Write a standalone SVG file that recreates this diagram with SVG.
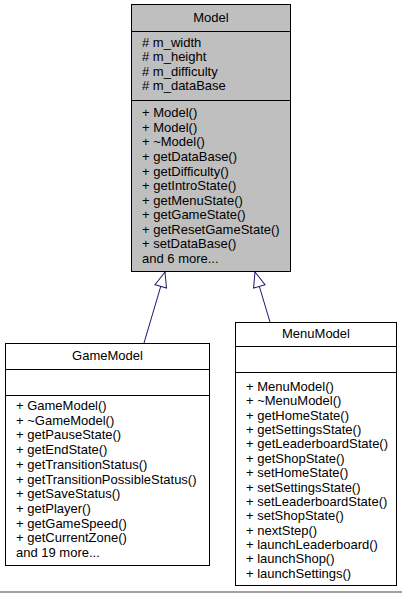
<svg xmlns="http://www.w3.org/2000/svg" width="402" height="595" viewBox="0 0 402 595">
<style>
.box{stroke:#000;stroke-width:1}
.model{fill:#bfbfbf}
.plain{fill:#fff}
.sep{stroke:#000;stroke-width:1}
text{font-family:"Liberation Sans",Arial,sans-serif;font-size:13px;fill:#000}
.title{text-anchor:middle}
.edge{stroke:#191970;stroke-width:1;fill:none;marker-end:url(#inh)}
</style>
<defs>
<marker id="inh" markerUnits="userSpaceOnUse" markerWidth="20" markerHeight="16" viewBox="-16 -8 17 16" refX="0" refY="0" orient="auto">
<path d="M0,0 L-15,-6 L-15,6 Z" fill="#fff" stroke="#191970" stroke-width="1"/>
</marker>
</defs>
<rect x="0" y="591" width="402" height="2" fill="#a0a0a0"/>
<g id="connectors">
<path class="edge" d="M144,343 L165,272"/>
<path class="edge" d="M270,322 L255,272"/>
</g>
<g id="Model">
<rect class="box model" x="131.5" y="4.5" width="159" height="267"/>
<line class="sep" x1="131.5" y1="31.5" x2="290.5" y2="31.5"/>
<line class="sep" x1="131.5" y1="100.5" x2="290.5" y2="100.5"/>
<text class="title" x="211" y="22">Model</text>
<text x="142" y="46.5"># m_width</text>
<text x="142" y="61.1"># m_height</text>
<text x="142" y="75.7"># m_difficulty</text>
<text x="142" y="90.3"># m_dataBase</text>
<text x="142" y="117.3">+ Model()</text>
<text x="142" y="131.8">+ Model()</text>
<text x="142" y="146.4">+ ~Model()</text>
<text x="142" y="160.9">+ getDataBase()</text>
<text x="142" y="175.5">+ getDifficulty()</text>
<text x="142" y="190">+ getIntroState()</text>
<text x="142" y="204.5">+ getMenuState()</text>
<text x="142" y="219.1">+ getGameState()</text>
<text x="142" y="233.6">+ getResetGameState()</text>
<text x="142" y="248.2">+ setDataBase()</text>
<text x="142" y="262.7">and 6 more...</text>
</g>
<g id="GameModel">
<rect class="box plain" x="5.5" y="343.5" width="204" height="222"/>
<line class="sep" x1="5.5" y1="369.5" x2="209.5" y2="369.5"/>
<line class="sep" x1="5.5" y1="395.5" x2="209.5" y2="395.5"/>
<text class="title" x="107.5" y="360">GameModel</text>
<text x="16" y="410">+ GameModel()</text>
<text x="16" y="424.7">+ ~GameModel()</text>
<text x="16" y="439.4">+ getPauseState()</text>
<text x="16" y="454.1">+ getEndState()</text>
<text x="16" y="468.8">+ getTransitionStatus()</text>
<text x="16" y="483.5">+ getTransitionPossibleStatus()</text>
<text x="16" y="498.2">+ getSaveStatus()</text>
<text x="16" y="512.9">+ getPlayer()</text>
<text x="16" y="527.6">+ getGameSpeed()</text>
<text x="16" y="542.3">+ getCurrentZone()</text>
<text x="16" y="557">and 19 more...</text>
</g>
<g id="MenuModel">
<rect class="box plain" x="235.5" y="322.5" width="161" height="263"/>
<line class="sep" x1="235.5" y1="346.5" x2="396.5" y2="346.5"/>
<line class="sep" x1="235.5" y1="372.5" x2="396.5" y2="372.5"/>
<text class="title" x="316" y="338">MenuModel</text>
<text x="246" y="391">+ MenuModel()</text>
<text x="246" y="405.4">+ ~MenuModel()</text>
<text x="246" y="419.7">+ getHomeState()</text>
<text x="246" y="434.1">+ getSettingsState()</text>
<text x="246" y="448.4">+ getLeaderboardState()</text>
<text x="246" y="462.8">+ getShopState()</text>
<text x="246" y="477.2">+ setHomeState()</text>
<text x="246" y="491.5">+ setSettingsState()</text>
<text x="246" y="505.9">+ setLeaderboardState()</text>
<text x="246" y="520.2">+ setShopState()</text>
<text x="246" y="534.6">+ nextStep()</text>
<text x="246" y="549">+ launchLeaderboard()</text>
<text x="246" y="563.3">+ launchShop()</text>
<text x="246" y="577.7">+ launchSettings()</text>
</g>
</svg>
